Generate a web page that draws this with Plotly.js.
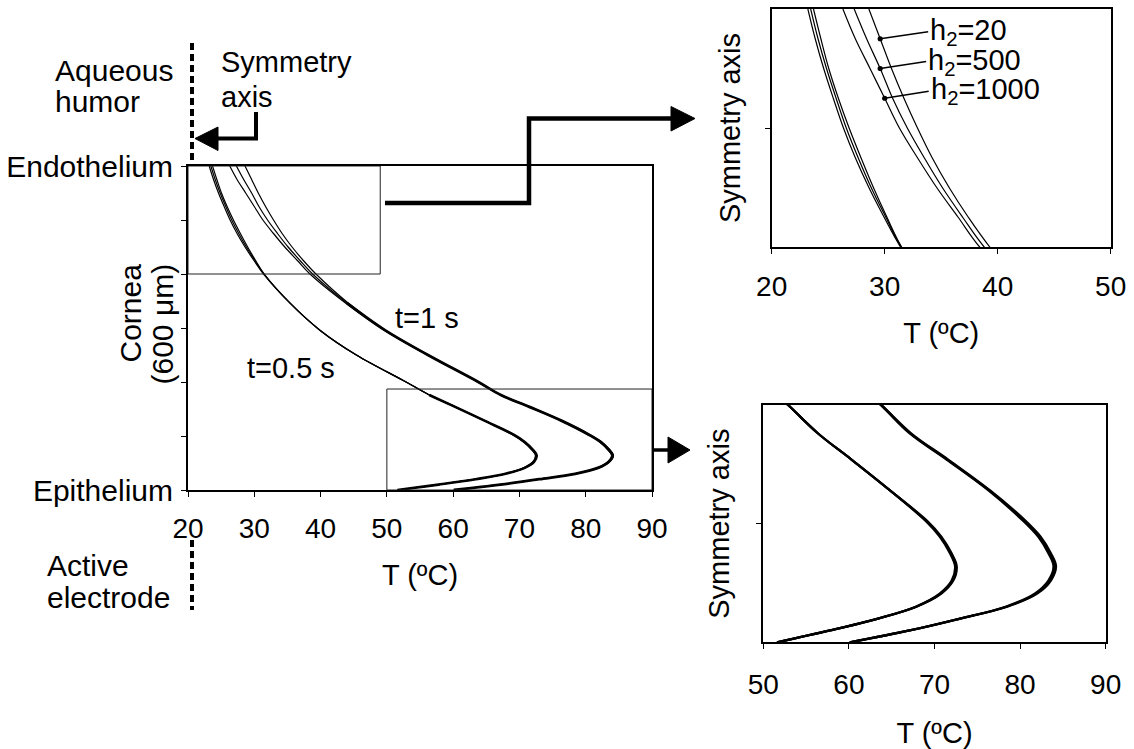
<!DOCTYPE html>
<html>
<head>
<meta charset="utf-8">
<script src="https://cdn.plot.ly/plotly-3.0.1.min.js"></script>
<style>html,body{margin:0;padding:0;background:#fff;}</style>
</head>
<body>
<div id="chart" style="width:1134px;height:749px;"></div>
<script>
// ---- data ----
const depth = [600,575,550,525,500,475,450,425,400,346,296,250,200,176,154,128,102,89,75,64,52,41,30,20,10,0];
const t05_h20   = [23.7,24.35,25.05,25.9,26.85,27.9,29.0,30.2,31.5,35.4,39.9,45.4,52.9,56.4,60.3,64.8,69.2,70.8,72.0,72.6,72.2,70.8,67.9,63.4,57.8,51.6];
const t05_h500  = [23.45,24.1,24.85,25.7,26.6,27.65,28.8,30.1,31.45,35.4,39.9,45.4,52.9,56.4,60.3,64.8,69.1,70.7,71.9,72.5,72.1,70.7,67.85,63.4,57.8,51.6];
const t05_h1000 = [23.2,23.85,24.6,25.45,26.35,27.4,28.6,29.95,31.4,35.4,39.9,45.4,52.9,56.4,60.3,64.8,69.0,70.6,71.8,72.4,72.0,70.6,67.8,63.4,57.8,51.6];
const t1_h20    = [28.6,29.6,30.6,31.7,32.9,34.2,35.7,37.4,39.3,44.2,49.8,56.3,63.8,67.3,71.6,76.5,80.7,82.4,83.6,84.2,83.6,82.0,78.5,73.0,67.1,60.1];
const t1_h500   = [27.3,28.4,29.6,30.7,32.0,33.5,35.1,36.9,38.8,44.0,49.7,56.2,63.8,67.2,71.5,76.4,80.55,82.25,83.45,84.05,83.45,81.85,78.4,73.0,67.1,60.1];
const t1_h1000  = [26.3,27.4,28.7,30.0,31.3,32.9,34.6,36.5,38.4,43.8,49.6,56.1,63.7,67.1,71.4,76.3,80.4,82.1,83.3,83.9,83.3,81.7,78.3,73.0,67.1,60.1];

const mainXTicks = [20,30,40,50,60,70,80,90];
const mainYLabelled = [0,600];
const mainYLabelText = ['Epithelium','Endothelium'];
const mainYMinor = [100,200,300,400,500];
const topXTicks = [20,30,40,50];
const botXTicks = [50,60,70,80,90];
const topRange = [400,600];
const botRange = [0,200];
const zoomBoxTop = {x:[20,49], y:[400,600]};
const zoomBoxBot = {x:[50,90], y:[0,187]};
const h2Labels = ['h<sub>2</sub>=20','h<sub>2</sub>=500','h<sub>2</sub>=1000'];

// ---- helpers ----
const W = 1134, H = 749;
const px = v => v / W;
const py = v => 1 - v / H;
const FONT = 'Liberation Sans, Arial, Helvetica, sans-serif';

const traces = [];
const series05 = [t05_h20, t05_h500, t05_h1000];
const series1 = [t1_h20, t1_h500, t1_h1000];
function line(xs, ys, xa, ya, w) {
  traces.push({x: xs, y: ys, xaxis: xa, yaxis: ya, mode: 'lines',
    line: {color: '#000', width: w, shape: 'spline', smoothing: 1.0}, hoverinfo: 'skip'});
}
function addSet(xa, ya, w05, w1) {
  series05.forEach(s => line(s, depth, xa, ya, w05));
  series1.forEach(s => line(s, depth, xa, ya, w1));
}
addSet('x', 'y', 1.2, 1.2);
// heavier stroke where the three h2 curves coincide in the main plot
line(t05_h20.slice(13), depth.slice(13), 'x', 'y', 2.6);
line(t1_h500.slice(9), depth.slice(9), 'x', 'y', 2.8);
addSet('x2', 'y2', 1.2, 1.2);
addSet('x3', 'y3', 2.2, 2.2);

const axBase = {showline: true, mirror: true, linecolor: '#000', linewidth: 2, showgrid: false,
  zeroline: false, ticks: 'outside', ticklen: 5, tickwidth: 1, tickcolor: '#000',
  tickfont: {family: FONT, size: 28, color: '#000'}};

const layout = {
  width: W, height: H, margin: {l: 0, r: 0, t: 0, b: 0}, showlegend: false,
  paper_bgcolor: '#fff', plot_bgcolor: 'rgba(0,0,0,0)',
  font: {family: FONT, size: 28, color: '#000'},
  xaxis: Object.assign({}, axBase, {domain: [px(188), px(652)], range: [20, 90], tickvals: mainXTicks,
    anchor: 'y', ticklabelstandoff: 7,
    title: {text: 'T (ºC)', standoff: 22, font: {family: FONT, size: 29}}}),
  yaxis: Object.assign({}, axBase, {domain: [py(490), py(166)], range: [0, 600], tickvals: mainYLabelled,
    ticktext: mainYLabelText, anchor: 'x', ticklabelstandoff: 2,
    tickfont: {family: FONT, size: 30, color: '#000'},
    minor: {tickvals: mainYMinor, ticks: 'outside', ticklen: 5, tickwidth: 1, tickcolor: '#000', showgrid: false}}),
  xaxis2: Object.assign({}, axBase, {domain: [px(771.7), px(1110.7)], range: [20, 50], tickvals: topXTicks,
    anchor: 'y2', ticklabelstandoff: 8,
    title: {text: 'T (ºC)', standoff: 22, font: {family: FONT, size: 29}}}),
  yaxis2: Object.assign({}, axBase, {domain: [py(247), py(9)], range: topRange, tickvals: [500],
    showticklabels: false, anchor: 'x2',
    title: {text: 'Symmetry axis', standoff: 16, font: {family: FONT, size: 29}}}),
  xaxis3: Object.assign({}, axBase, {domain: [px(763.3), px(1105.7)], range: [50, 90], tickvals: botXTicks,
    anchor: 'y3', ticklabelstandoff: 11,
    title: {text: 'T (ºC)', standoff: 28, font: {family: FONT, size: 29}}}),
  yaxis3: Object.assign({}, axBase, {domain: [py(642.3), py(405)], range: botRange, tickvals: [100],
    showticklabels: false, anchor: 'x3',
    title: {text: 'Symmetry axis', standoff: 18, font: {family: FONT, size: 29}}}),
  shapes: [
    // zoom boxes in the main plot
    {type: 'rect', xref: 'x', yref: 'y', x0: zoomBoxTop.x[0], x1: zoomBoxTop.x[1], y0: zoomBoxTop.y[0], y1: zoomBoxTop.y[1],
      line: {color: '#222', width: 1}},
    {type: 'rect', xref: 'x', yref: 'y', x0: zoomBoxBot.x[0], x1: zoomBoxBot.x[1], y0: zoomBoxBot.y[0], y1: zoomBoxBot.y[1],
      line: {color: '#222', width: 1}},
    // connector to top inset
    {type: 'path', xref: 'paper', yref: 'paper',
      path: `M${px(385)},${py(203)} L${px(529)},${py(203)} L${px(529)},${py(118.5)} L${px(673)},${py(118.5)}`,
      line: {color: '#000', width: 4.5}},
    {type: 'path', xref: 'paper', yref: 'paper',
      path: `M${px(671)},${py(106.5)} L${px(695)},${py(118.5)} L${px(671)},${py(131)} Z`,
      fillcolor: '#000', line: {color: '#000', width: 1}},
    // connector to bottom inset
    {type: 'line', xref: 'paper', yref: 'paper', x0: px(652), x1: px(670), y0: py(450), y1: py(450),
      line: {color: '#000', width: 3.5}},
    {type: 'path', xref: 'paper', yref: 'paper',
      path: `M${px(668)},${py(437)} L${px(690)},${py(450)} L${px(668)},${py(463)} Z`,
      fillcolor: '#000', line: {color: '#000', width: 1}},
    // symmetry axis arrow
    {type: 'path', xref: 'paper', yref: 'paper',
      path: `M${px(256)},${py(112)} L${px(256)},${py(138.5)} L${px(216)},${py(138.5)}`,
      line: {color: '#000', width: 4}},
    {type: 'path', xref: 'paper', yref: 'paper',
      path: `M${px(218)},${py(127)} L${px(195)},${py(138.5)} L${px(218)},${py(150.5)} Z`,
      fillcolor: '#000', line: {color: '#000', width: 1}},
    // dashed boundaries
    {type: 'line', xref: 'paper', yref: 'paper', x0: px(192), x1: px(192), y0: py(43), y1: py(163),
      line: {color: '#000', width: 4, dash: '7px,4px'}},
    {type: 'line', xref: 'paper', yref: 'paper', x0: px(192), x1: px(192), y0: py(540), y1: py(610),
      line: {color: '#000', width: 4, dash: '7px,4px'}}
  ],
  annotations: []
};

function note(text, x, y, xanchor, extra) {
  layout.annotations.push(Object.assign({text: text, xref: 'paper', yref: 'paper', x: px(x), y: py(y),
    xanchor: xanchor, yanchor: 'middle', showarrow: false,
    font: {family: FONT, size: 30, color: '#000'}}, extra || {}));
}
note('Aqueous', 53, 70, 'left');
note('humor', 53, 101, 'left');
note('Symmetry', 219, 62, 'left', {font: {family: FONT, size: 29, color: '#000'}});
note('axis', 219, 97, 'left', {font: {family: FONT, size: 29, color: '#000'}});
note('Active', 45, 565, 'left');
note('electrode', 45, 597, 'left');
note('t=1 s', 427, 318, 'center', {font: {family: FONT, size: 29, color: '#000'}});
note('t=0.5 s', 291, 368, 'center', {font: {family: FONT, size: 29, color: '#000'}});
note('Cornea', 130, 262, 'center', {textangle: -90, yanchor: 'top'});
note('(600 μm)', 162, 262, 'center', {textangle: -90, yanchor: 'top'});

// h2 labels with leader lines and dots on the t=1 s curves
const dotIdx = [1, 2, 3];
const dotSeries = [t1_h20, t1_h500, t1_h1000];
const dx = [48, 46, 44];
h2Labels.forEach((lab, i) => {
  layout.annotations.push({text: lab, xref: 'x2', yref: 'y2', x: dotSeries[i][dotIdx[i]], y: depth[dotIdx[i]],
    showarrow: true, arrowhead: 6, arrowsize: 1, arrowwidth: 1.3, arrowcolor: '#000', startarrowhead: 0,
    ax: dx[i], ay: -7, xanchor: 'left', yanchor: 'middle',
    font: {family: FONT, size: 29, color: '#000'}});
});

Plotly.newPlot('chart', traces, layout, {staticPlot: true, displayModeBar: false});
</script>
</body>
</html>
